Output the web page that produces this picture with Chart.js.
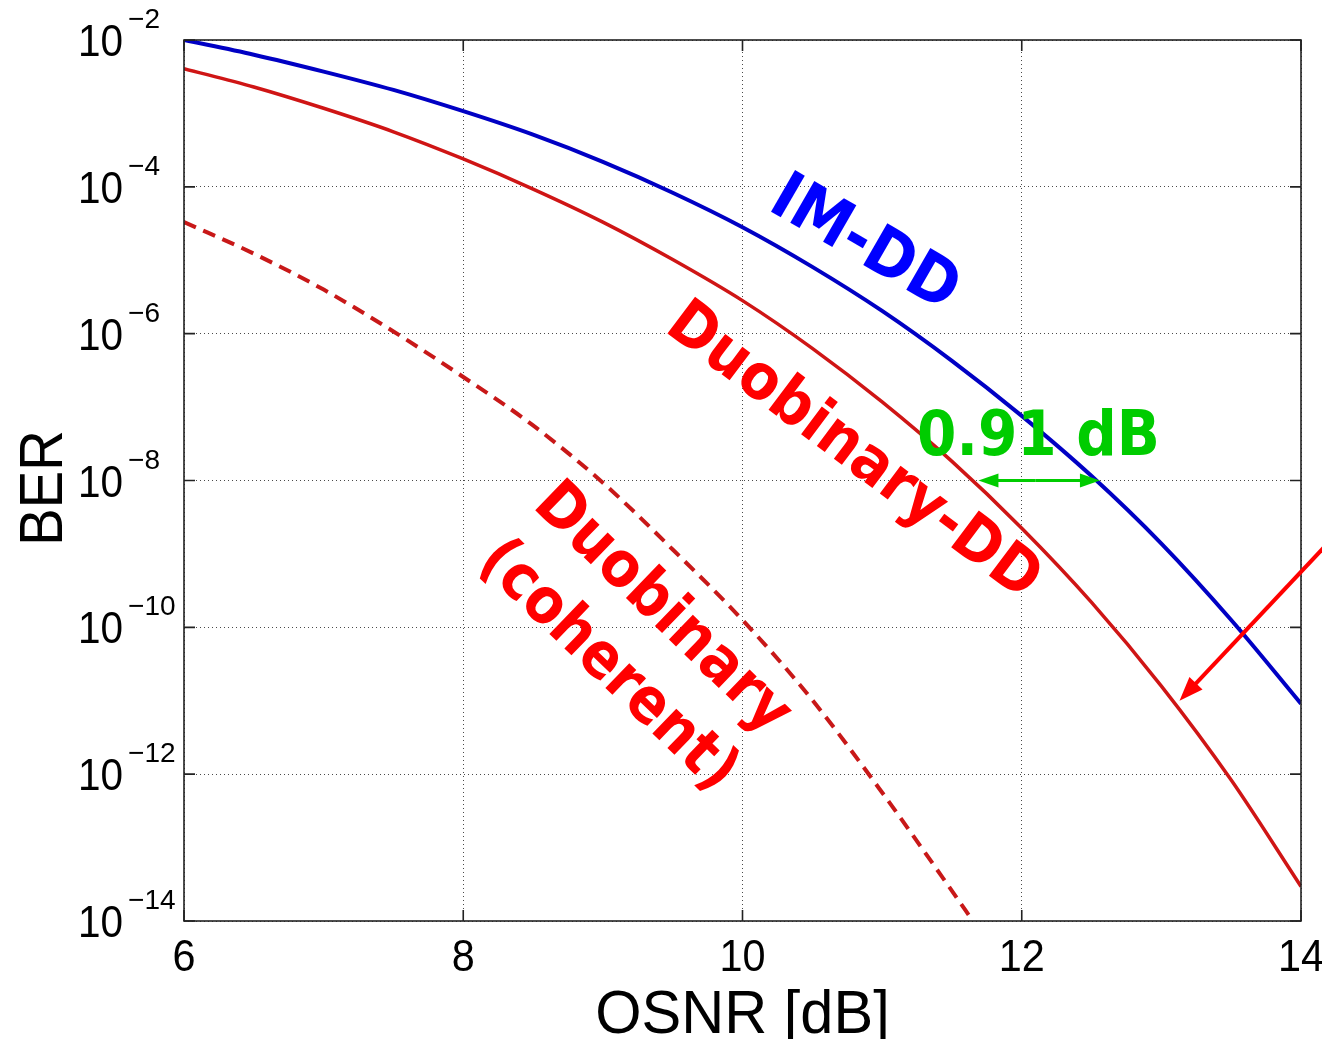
<!DOCTYPE html>
<html>
<head>
<meta charset="utf-8">
<title>BER vs OSNR</title>
<script src="https://cdn.jsdelivr.net/npm/chart.js@4.4.1/dist/chart.umd.min.js"></script>
<style>
  html, body { margin: 0; padding: 0; background: #fff; }
  canvas { display: block; }
</style>
</head>
<body>
<canvas id="berChart" width="1322" height="1039"></canvas>
<script>
// OSNR sample points [dB] and log10(BER)
const osnr = [6, 6.5, 7, 7.5, 8, 8.5, 9, 9.5, 10, 10.5, 11, 11.5, 12, 12.5, 13, 13.5, 14];
const imddExp = [-2.0, -2.20, -2.43, -2.68, -2.97, -3.29, -3.66, -4.08, -4.55, -5.09, -5.69, -6.37, -7.12, -7.94, -8.86, -9.90, -11.04];
const duoDdExp = [-2.39, -2.64, -2.93, -3.25, -3.62, -4.03, -4.48, -4.99, -5.55, -6.20, -6.93, -7.74, -8.65, -9.66, -10.80, -12.08, -13.53];

const osnrCoh = [6, 6.5, 7, 7.5, 8, 8.5, 9, 9.5, 10, 10.5, 11, 11.5, 11.65];
const duoCohExp = [-4.48, -4.91, -5.40, -5.97, -6.59, -7.25, -8.03, -8.94, -9.9, -10.99, -12.25, -13.59, -14.0];

const xTicks = [6, 8, 10, 12, 14];
const yTickExps = [-2, -4, -6, -8, -10, -12, -14];

const toPoints = (xs, exps) => xs.map((x, i) => ({ x: x, y: Math.pow(10, exps[i]) }));

// text notes on the plot, anchored in data units (x in dB, y as log10 BER)
const notes = [
    { text: 'IM-DD', x: 10.87, y: -4.80, angle: 30, color: '#0000ff', size: 66, width: 206 },
    { text: 'Duobinary-DD', x: 10.79, y: -7.62, angle: 37, color: '#ff0000', size: 63, width: 450 },
    { text: 'Duobinary', x: 9.42, y: -9.76, angle: 44, color: '#ff0000', size: 63, width: 330 },
    { text: '(coherent)', x: 9.03, y: -10.54, angle: 44, color: '#ff0000', size: 63, width: 332 },
    { text: '0.91 dB', x: 12.12, y: -7.43, angle: 0, color: '#00cc00', size: 63, width: 243 }
];

/**
 * Draws a piece of text, optionally rotated and squeezed horizontally.
 */
function drawText(ctx, text, x, y, opts) {
    ctx.save();
    ctx.font = opts.font;
    ctx.fillStyle = opts.color || '#000';
    ctx.textAlign = opts.align || 'center';
    ctx.textBaseline = opts.baseline || 'alphabetic';
    ctx.translate(x, y);
    if (opts.angle) ctx.rotate(opts.angle * Math.PI / 180);
    let sx = opts.sx || 1;
    if (opts.width) sx = opts.width / ctx.measureText(text).width;
    ctx.scale(sx, 1);
    ctx.fillText(text, 0, 0);
    const w = ctx.measureText(text).width * sx;
    ctx.restore();
    return w;
}

/**
 * Draws a straight arrow with a filled head at (x2, y2).
 */
function drawArrow(ctx, x1, y1, x2, y2, color, lw, len, half) {
    const a = Math.atan2(y2 - y1, x2 - x1);
    ctx.save();
    ctx.strokeStyle = color;
    ctx.fillStyle = color;
    ctx.lineWidth = lw;
    ctx.beginPath();
    ctx.moveTo(x1, y1);
    ctx.lineTo(x2 - Math.cos(a) * len * 0.8, y2 - Math.sin(a) * len * 0.8);
    ctx.stroke();
    ctx.beginPath();
    ctx.moveTo(x2, y2);
    ctx.lineTo(x2 - Math.cos(a) * len - Math.sin(a) * half, y2 - Math.sin(a) * len + Math.cos(a) * half);
    ctx.lineTo(x2 - Math.cos(a) * len + Math.sin(a) * half, y2 - Math.sin(a) * len - Math.cos(a) * half);
    ctx.closePath();
    ctx.fill();
    ctx.restore();
}

// MATLAB-like frame, inward ticks, 10^n labels and the annotations
const matlabAxes = {
    id: 'matlabAxes',
    afterDraw(chart) {
        const ctx = chart.ctx;
        const { left, right, top, bottom } = chart.chartArea;
        const xs = chart.scales.x;
        const ys = chart.scales.y;
        const py = e => ys.getPixelForValue(Math.pow(10, e));

        ctx.save();
        ctx.strokeStyle = '#222';
        ctx.lineWidth = 1.6;
        ctx.strokeRect(left, top, right - left, bottom - top);
        ctx.beginPath();
        xTicks.forEach(v => {
            const px = xs.getPixelForValue(v);
            ctx.moveTo(px, bottom); ctx.lineTo(px, bottom - 11);
            ctx.moveTo(px, top); ctx.lineTo(px, top + 11);
        });
        yTickExps.forEach(e => {
            const y = py(e);
            ctx.moveTo(left, y); ctx.lineTo(left + 11, y);
            ctx.moveTo(right, y); ctx.lineTo(right - 11, y);
        });
        ctx.stroke();
        ctx.restore();

        // tick labels
        xTicks.forEach(v => {
            drawText(ctx, String(v), xs.getPixelForValue(v), bottom + 50, { font: '45px "Liberation Sans"', sx: 0.92 });
        });
        yTickExps.forEach(e => {
            const y = py(e);
            const w = drawText(ctx, '10', left - 106, y + 16, { font: '45px "Liberation Sans"', align: 'left', sx: 0.9 });
            drawText(ctx, '\u2212' + Math.abs(e), left - 106 + w + 5, y - 12, { font: '28px "Liberation Sans"', align: 'left' });
        });

        // axis titles
        drawText(ctx, 'OSNR [dB]', (left + right) / 2, 1033, { font: '62px "Liberation Sans"', sx: 0.96 });
        drawText(ctx, 'BER', 62, 488, { font: '61px "Liberation Sans"', angle: -90, sx: 0.92 });

        // arrows
        drawArrow(ctx, xs.getPixelForValue(12.1), py(-8), xs.getPixelForValue(11.69), py(-8), '#00cc00', 3, 20, 7);
        drawArrow(ctx, xs.getPixelForValue(12.1), py(-8), xs.getPixelForValue(12.56), py(-8), '#00cc00', 3, 20, 7);
        drawArrow(ctx, xs.getPixelForValue(14.17), py(-8.9), xs.getPixelForValue(13.13), py(-11.0), '#ff0000', 4, 24, 9);

        // curve labels
        notes.forEach(n => {
            drawText(ctx, n.text, xs.getPixelForValue(n.x), py(n.y), {
                font: 'bold ' + n.size + 'px "DejaVu Sans"', color: n.color, angle: n.angle,
                width: n.width, baseline: 'middle'
            });
        });
    }
};

new Chart(document.getElementById('berChart'), {
    type: 'line',
    data: {
        datasets: [
            { label: 'IM-DD', data: toPoints(osnr, imddExp), borderColor: '#0000c4', borderWidth: 4 },
            { label: 'Duobinary-DD', data: toPoints(osnr, duoDdExp), borderColor: '#cf1515', borderWidth: 3.5 },
            { label: 'Duobinary (coherent)', data: toPoints(osnrCoh, duoCohExp), borderColor: '#c81818', borderWidth: 4, borderDash: [13, 8] }
        ]
    },
    options: {
        responsive: false,
        animation: false,
        elements: {
            point: { radius: 0 },
            line: { cubicInterpolationMode: 'monotone', borderCapStyle: 'butt', fill: false }
        },
        layout: { padding: { top: 40, right: 21, left: 0, bottom: 0 } },
        plugins: { legend: { display: false }, tooltip: { enabled: false } },
        scales: {
            x: {
                type: 'linear', min: 6, max: 14,
                afterBuildTicks: s => { s.ticks = xTicks.map(v => ({ value: v })); },
                afterFit: s => { s.height = 118; },
                ticks: { display: false },
                grid: { color: '#4a4a4a', lineWidth: 1, drawTicks: false },
                border: { display: false, dash: [1, 3] }
            },
            y: {
                type: 'logarithmic', min: 1e-14, max: 1e-2,
                afterBuildTicks: s => { s.ticks = yTickExps.map(e => ({ value: Math.pow(10, e) })); },
                afterFit: s => { s.width = 184; },
                ticks: { display: false },
                grid: { color: '#4a4a4a', lineWidth: 1, drawTicks: false },
                border: { display: false, dash: [1, 3] }
            }
        }
    },
    plugins: [matlabAxes]
});
</script>
</body>
</html>
